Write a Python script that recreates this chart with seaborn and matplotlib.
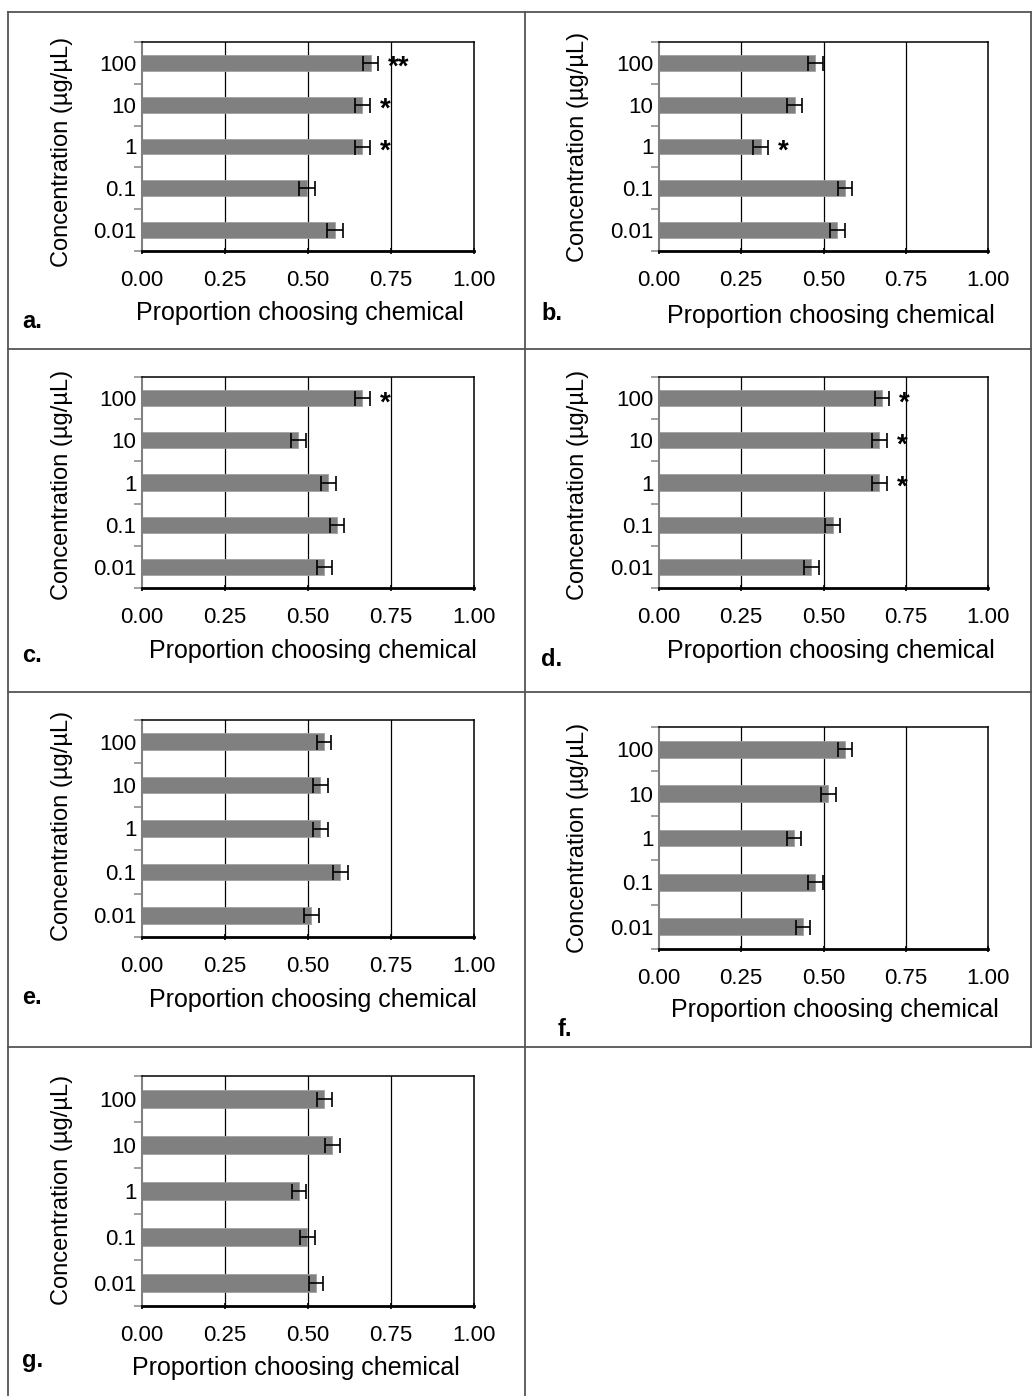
import numpy as np
import pandas as pd
import matplotlib
matplotlib.use("Agg")
import matplotlib.pyplot as plt
import seaborn as sns
from matplotlib.lines import Line2D

plt.rcParams['font.family'] = ['Liberation Sans', 'DejaVu Sans']

conc = ['100', '10', '1', '0.1', '0.01']

a_vals = [0.689, 0.664, 0.664, 0.497, 0.581]
b_vals = [0.475, 0.412, 0.309, 0.566, 0.542]
c_vals = [0.664, 0.471, 0.561, 0.587, 0.549]
d_vals = [0.678, 0.670, 0.670, 0.528, 0.463]
e_vals = [0.548, 0.537, 0.537, 0.597, 0.510]
f_vals = [0.566, 0.515, 0.411, 0.475, 0.438]
g_vals = [0.549, 0.573, 0.473, 0.498, 0.524]

a_err = [0.023, 0.023, 0.023, 0.025, 0.025]
b_err = [0.022, 0.022, 0.022, 0.022, 0.022]
c_err = [0.022, 0.022, 0.022, 0.022, 0.022]
d_err = [0.022, 0.022, 0.022, 0.022, 0.022]
e_err = [0.022, 0.022, 0.022, 0.022, 0.022]
f_err = [0.022, 0.022, 0.022, 0.022, 0.022]
g_err = [0.022, 0.022, 0.022, 0.022, 0.022]

a_sig = ['**', '*', '*', '', '']
b_sig = ['', '', '*', '', '']
c_sig = ['*', '', '', '', '']
d_sig = ['*', '*', '*', '', '']
e_sig = ['', '', '', '', '']
f_sig = ['', '', '', '', '']
g_sig = ['', '', '', '', '']

W, H = 1033, 1396
fig = plt.figure(figsize=(W / 100, H / 100), dpi=100)

def fx(px):
    return px / W

def fy(py):
    return 1 - py / H

# panel: letter, values, err, sig, axes box (l, t, r, b) px, xlabel center, ylabel center, letter pos
panels = [
    ('a.', a_vals, a_err, a_sig, (142, 42, 474, 251), (300, 313), (62, 152), (22, 322)),
    ('b.', b_vals, b_err, b_sig, (659, 42, 988, 251), (831, 316), (578, 147), (541, 313)),
    ('c.', c_vals, c_err, c_sig, (142, 377, 474, 588), (313, 651), (62, 485), (22, 655)),
    ('d.', d_vals, d_err, d_sig, (659, 377, 988, 588), (831, 651), (578, 485), (541, 660)),
    ('e.', e_vals, e_err, e_sig, (142, 720, 474, 937), (313, 1000), (62, 826), (22, 998)),
    ('f.', f_vals, f_err, f_sig, (659, 727, 988, 949), (835, 1010), (578, 838), (558, 1030)),
    ('g.', g_vals, g_err, g_sig, (142, 1076, 474, 1306), (296, 1368), (62, 1190), (22, 1361)),
]

for letter, vals, err, sig, box, xl, yl, lp in panels:
    l, t, r, b = box
    ax = fig.add_axes([fx(l), fy(b), fx(r - l), (b - t) / H])
    df = pd.DataFrame({'conc': conc, 'prop': vals})
    sns.barplot(data=df, x='prop', y='conc', order=conc, orient='h',
                color='#808080', saturation=1, width=0.38, ax=ax,
                edgecolor='#a0a0a0', linewidth=0.6)
    ax.errorbar(vals, np.arange(len(conc)), xerr=err, fmt='none',
                ecolor='black', elinewidth=1.2, capsize=5.4, capthick=1.2, zorder=3)
    for i, (v, e, s) in enumerate(zip(vals, err, sig)):
        if s:
            ax.text(v + e + 0.03, i + 0.12, s, fontsize=20, fontweight='bold',
                    va='center', ha='left')
    ax.set_xlim(0, 1)
    ax.set_ylim(4.5, -0.5)
    ax.set_xticks([0, 0.25, 0.5, 0.75, 1.0])
    ax.set_xticklabels(['0.00', '0.25', '0.50', '0.75', '1.00'])
    for gx in [0.25, 0.5, 0.75]:
        ax.axvline(gx, color='black', lw=0.9, zorder=0)
    ax.set_yticks(np.arange(-0.5, 5, 1), minor=True)
    ax.tick_params(axis='y', which='major', length=0, labelsize=16, pad=4)
    ax.tick_params(axis='y', which='minor', length=6, color='#909090', width=1.2)
    ax.tick_params(axis='x', which='major', length=5, width=1.2, color='black',
                   labelsize=16, pad=11, direction='inout')
    for side in ['top', 'right']:
        ax.spines[side].set_color('black')
        ax.spines[side].set_linewidth(1.1)
    ax.spines['bottom'].set_color('black')
    ax.spines['bottom'].set_linewidth(2.0)
    ax.spines['left'].set_color('#808080')
    ax.spines['left'].set_linewidth(1.5)
    ax.set_xlabel('Proportion choosing chemical', fontsize=18, va='center')
    ax.xaxis.set_label_coords(fx(xl[0]), fy(xl[1]), transform=fig.transFigure)
    ax.set_ylabel('Concentration (µg/µL)', fontsize=17, va='center')
    ax.yaxis.set_label_coords(fx(yl[0]), fy(yl[1]), transform=fig.transFigure)
    fig.text(fx(lp[0]), fy(lp[1]), letter, fontsize=17, fontweight='bold',
             ha='left', va='center')

# table cell borders
bc = '#555555'
bw = 1.3
borders = [
    ((8, 8), (12, H)),
    ((525, 525), (12, H)),
    ((1031, 1031), (12, 1047)),
    ((8, 1031), (12, 12)),
    ((8, 1031), (349, 349)),
    ((8, 1031), (692, 692)),
    ((8, 1031), (1047, 1047)),
]
for xs, ys in borders:
    fig.add_artist(Line2D([fx(xs[0]), fx(xs[1])], [fy(ys[0]), fy(ys[1])],
                          color=bc, lw=bw, transform=fig.transFigure))

fig.savefig('out.png', dpi=100)
